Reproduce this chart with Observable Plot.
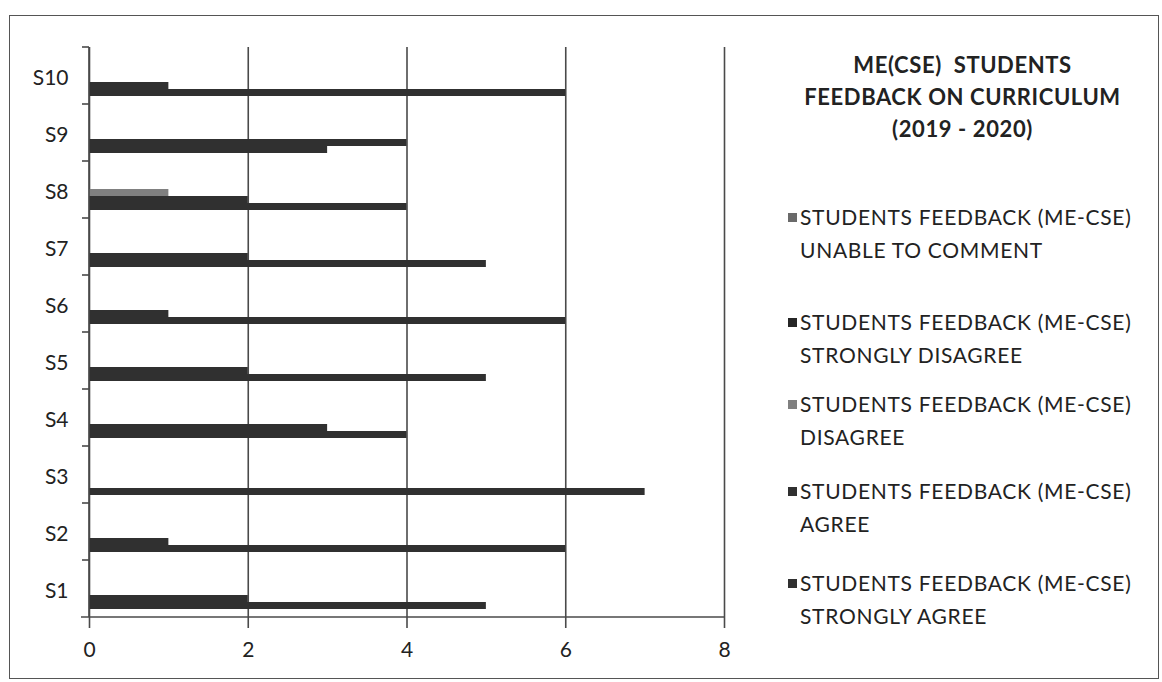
<!DOCTYPE html>
<html>
<head>
<meta charset="utf-8">
<script src="https://cdn.jsdelivr.net/npm/d3@7"></script>
<script src="https://cdn.jsdelivr.net/npm/@observablehq/plot@0.6"></script>
<style>
  html, body { margin: 0; padding: 0; background: #fff; }
  body { width: 1162px; height: 682px; position: relative; overflow: hidden; font-family: Lato, "Open Sans", sans-serif; color: #222; }
  #frame { position: absolute; left: 9px; top: 15px; width: 1150px; height: 664px; border: 1.5px solid #555; box-sizing: border-box; }
  #chart { position: absolute; left: 0; top: 0; }
  #title { position: absolute; left: 760px; width: 405px; top: 49px; text-align: center; font-weight: bold; font-size: 22px; letter-spacing: 0.6px; line-height: 32px; }
  .entry { position: absolute; left: 788px; font-size: 21px; letter-spacing: 0.7px; line-height: 33px; white-space: nowrap; }
  .sw { display: inline-block; width: 9px; height: 9px; margin-right: 3px; vertical-align: 3px; }
</style>
</head>
<body>
<div id="frame"></div>
<div id="chart"></div>
<div id="title">ME(CSE)&nbsp; STUDENTS<br>FEEDBACK ON CURRICULUM<br>(2019 - 2020)</div>
<div id="legend"></div>
<script>
// ---- data ----
const categories = ["S1", "S2", "S3", "S4", "S5", "S6", "S7", "S8", "S9", "S10"];
const seriesNames = [
  "STUDENTS FEEDBACK (ME-CSE) UNABLE TO COMMENT",
  "STUDENTS FEEDBACK (ME-CSE) STRONGLY DISAGREE",
  "STUDENTS FEEDBACK (ME-CSE) DISAGREE",
  "STUDENTS FEEDBACK (ME-CSE) AGREE",
  "STUDENTS FEEDBACK (ME-CSE) STRONGLY AGREE"
];
const legendSecondLines = ["UNABLE TO COMMENT", "STRONGLY DISAGREE", "DISAGREE", "AGREE", "STRONGLY AGREE"];
const unableToComment  = [0, 0, 0, 0, 0, 0, 0, 0, 0, 0];
const stronglyDisagree = [0, 0, 0, 0, 0, 0, 0, 0, 0, 0];
const disagree         = [0, 0, 0, 0, 0, 0, 0, 1, 0, 0];
const agree            = [2, 1, 0, 3, 2, 1, 2, 2, 4, 1];
const stronglyAgree    = [5, 6, 7, 4, 5, 6, 5, 4, 3, 6];
const xTicks = [0, 2, 4, 6, 8];
const seriesColors = ["#6a6a6a", "#262626", "#808080", "#303030", "#303030"];

const seriesValues = [unableToComment, stronglyDisagree, disagree, agree, stronglyAgree];
const rows = [];
categories.forEach((c, i) => {
  seriesNames.forEach((s, j) => rows.push({category: c, series: s, value: seriesValues[j][i]}));
});

const chart = Plot.plot({
  width: 740,
  height: 682,
  marginLeft: 89,
  marginRight: 16,
  marginTop: 45,
  marginBottom: 64,
  style: {fontFamily: "Lato, 'Open Sans', sans-serif", fontSize: "21px", color: "#222", background: "transparent"},
  x: {domain: [0, 8]},
  fy: {domain: categories.slice().reverse(), padding: 0},
  y: {domain: seriesNames, axis: null, paddingInner: 0, paddingOuter: 1.08, align: 0.62},
  color: {domain: seriesNames, range: seriesColors},
  marks: [
    Plot.ruleX(xTicks, {stroke: "#4a4a4a", strokeWidth: 1.6}),
    Plot.barX(rows, {x: "value", y: "series", fy: "category", fill: "series"}),
    Plot.axisX({ticks: xTicks, tickSize: 11, tickPadding: 14, stroke: "#4a4a4a", strokeWidth: 1.6, label: null, fontSize: 21}),
    Plot.axisFy({anchor: "left", tickSize: 0, tickPadding: 21, dy: 2, label: null, fontSize: 21})
  ]
});
document.getElementById("chart").appendChild(chart);

// axis line and category boundary ticks, positioned from the plot's own scales
const svg = d3.select(chart.tagName.toLowerCase() === "svg" ? chart : chart.querySelector("svg"));
const xs = chart.scale("x");
const fys = chart.scale("fy");
const x0 = xs.apply(0), x8 = xs.apply(8);
const bw = fys.bandwidth;
const tops = categories.map(c => fys.apply(c));
const bottom = d3.max(tops) + bw;
const g = svg.append("g").attr("stroke", "#4a4a4a").attr("stroke-width", 1.6);
g.append("line").attr("x1", x0 - 8).attr("x2", x8).attr("y1", bottom).attr("y2", bottom);
g.append("line").attr("x1", x0).attr("x2", x0).attr("y1", d3.min(tops)).attr("y2", bottom);
tops.forEach(t => g.append("line").attr("x1", x0 - 7).attr("x2", x0).attr("y1", t).attr("y2", t));

// legend
const legendTops = [200, 305, 387, 474, 566];
const legend = document.getElementById("legend");
seriesNames.forEach((s, i) => {
  const d = document.createElement("div");
  d.className = "entry";
  d.style.top = legendTops[i] + "px";
  d.innerHTML = `<span class="sw" style="background:${seriesColors[i]}"></span>STUDENTS FEEDBACK (ME-CSE)<br><span style="margin-left:12px">${legendSecondLines[i]}</span>`;
  legend.appendChild(d);
});
</script>
</body>
</html>
